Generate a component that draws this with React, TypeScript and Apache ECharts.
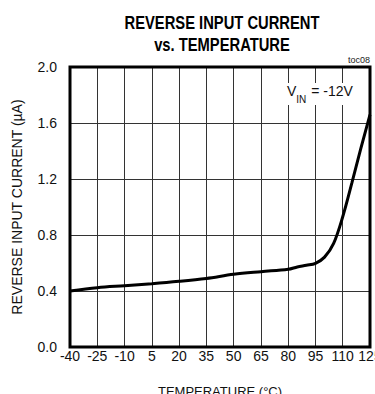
import React, { useEffect, useRef } from "react";
import * as echarts from "echarts";

const temps = [-40, -25, -10, 5, 20, 35, 50, 65, 80, 85, 90, 95, 100, 105, 110, 115, 120, 125];
const currents = [0.4, 0.424, 0.438, 0.452, 0.469, 0.49, 0.519, 0.538, 0.555, 0.572, 0.584, 0.598, 0.642, 0.74, 0.93, 1.17, 1.42, 1.66];
const titleLines = ["REVERSE INPUT CURRENT", "vs. TEMPERATURE"];
const xName = "TEMPERATURE (°C)";
const yName = "REVERSE INPUT CURRENT (µA)";

const FONT = "'Liberation Sans', Arial, sans-serif";

export default function App() {
  const ref = useRef<HTMLDivElement>(null);
  useEffect(() => {
    if (!ref.current) return;
    const chart = echarts.init(ref.current, null, { renderer: "svg" });
    const data = temps.map((t, i) => [t, currents[i]]);
    chart.setOption({
      animation: false,
      backgroundColor: "#fff",
      textStyle: { fontFamily: FONT },
      grid: {
        left: 70,
        right: 5,
        top: 67,
        bottom: 47,
        show: true,
        borderColor: "#000",
        borderWidth: 3,
        containLabel: false,
        outerBoundsMode: "none",
        z: 3,
      },
      xAxis: {
        type: "value",
        min: -40,
        max: 125,
        interval: 15,
        name: xName,
        nameLocation: "middle",
        nameGap: 38,
        nameTextStyle: { fontFamily: FONT, fontSize: 13, color: "#111" },
        axisLine: { show: false },
        axisTick: { show: false },
        axisLabel: { fontFamily: FONT, fontSize: 14, color: "#111", margin: 2 },
        splitLine: { show: true, lineStyle: { color: "#333", width: 1 } },
      },
      yAxis: {
        type: "value",
        min: 0,
        max: 2.0,
        interval: 0.4,
        name: yName,
        nameLocation: "middle",
        nameGap: 46,
        nameTextStyle: { fontFamily: FONT, fontSize: 14, color: "#111" },
        axisLine: { show: false },
        axisTick: { show: false },
        axisLabel: {
          fontFamily: FONT,
          fontSize: 14,
          color: "#111",
          margin: 13,
          formatter: (v: number) => v.toFixed(1),
        },
        splitLine: { show: true, lineStyle: { color: "#333", width: 1 } },
      },
      series: [
        {
          type: "line",
          data,
          smooth: 0.35,
          showSymbol: false,
          symbol: "none",
          lineStyle: { color: "#000", width: 3 },
          z: 4,
        },
      ],
      graphic: [
        {
          type: "text",
          x: 222,
          y: 11,
          scaleX: 0.82,
          style: {
            text: titleLines.join("\n"),
            fontFamily: FONT,
            fontWeight: "bold",
            fontSize: 18,
            lineHeight: 22,
            fill: "#000",
            textAlign: "center",
          },
        },
        {
          type: "text",
          x: 370,
          y: 55,
          style: {
            text: "toc08",
            fontFamily: FONT,
            fontSize: 9,
            fill: "#222",
            textAlign: "right",
          },
        },
        {
          type: "text",
          x: 285,
          y: 83,
          z: 10,
          style: {
            text: "{v|V}{s|IN}{v| = -12V}",
            fontFamily: FONT,
            backgroundColor: "#fff",
            padding: [1, 2, 1, 2],
            rich: {
              v: { fontFamily: FONT, fontSize: 14, fill: "#111", verticalAlign: "top", lineHeight: 16 },
              s: { fontFamily: FONT, fontSize: 10, fill: "#111", verticalAlign: "bottom", lineHeight: 20, padding: [6, 1, 0, 0] },
            },
          },
        },
      ],
    });
    return () => chart.dispose();
  }, []);
  return <div ref={ref} style={{ width: 375, height: 394, position: "absolute", left: 0, top: 0 }} />;
}
